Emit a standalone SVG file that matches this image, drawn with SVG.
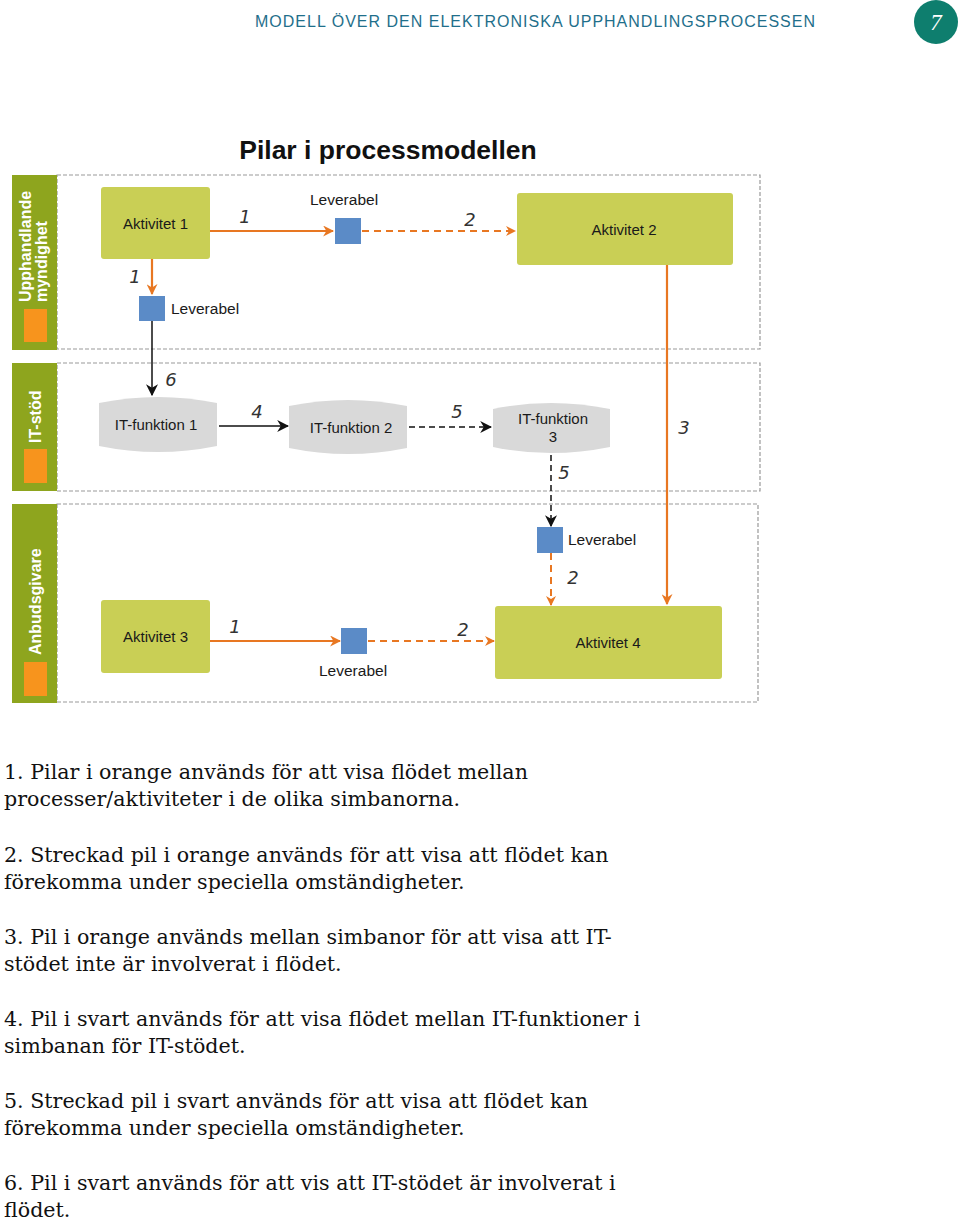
<svg xmlns="http://www.w3.org/2000/svg" width="960" height="1222" viewBox="0 0 960 1222">
<style>
.lane{fill:none;stroke:#999;stroke-width:1.2;stroke-dasharray:4 2}
.bar{fill:#8ea51e}
.sq{fill:#f7941d}
.lanelbl{font-family:"Liberation Sans",Arial,sans-serif;font-weight:bold;font-size:16px;fill:#fff}
.act{fill:#c9cf55}
.lev{fill:#5b8bc7}
.itf{fill:#d9d9d9}
.t{font-family:"Liberation Sans",Arial,sans-serif;font-size:15px;fill:#1a1a1a;text-anchor:middle}
.tl{font-family:"Liberation Sans",Arial,sans-serif;font-size:15.5px;fill:#1a1a1a}
.num{font-family:"DejaVu Sans",sans-serif;font-style:italic;font-size:18px;fill:#333;text-anchor:middle}
.o{stroke:#e87722;stroke-width:2.2;fill:none}
.od{stroke:#e87722;stroke-width:2;fill:none;stroke-dasharray:7 5}
.k{stroke:#111;stroke-width:1.5;fill:none}
.kd{stroke:#111;stroke-width:1.5;fill:none;stroke-dasharray:6 4}
.body{font-family:"DejaVu Serif","Liberation Serif",serif;font-size:20.6px;fill:#111}
</style>
<defs>
<marker id="ao" viewBox="0 0 10 10" refX="9" refY="5" markerWidth="5" markerHeight="5" orient="auto" markerUnits="strokeWidth"><path d="M0,0 L10,5 L0,10 L3,5 Z" fill="#e87722"/></marker>
<marker id="ak" viewBox="0 0 10 10" refX="9" refY="5" markerWidth="8" markerHeight="8" orient="auto" markerUnits="strokeWidth"><path d="M0,0 L10,5 L0,10 L3,5 Z" fill="#111"/></marker>
</defs>
<rect width="960" height="1222" fill="#fff"/>
<g id="header">
<text x="255" y="27" font-family="Liberation Sans,Arial,sans-serif" font-size="16" fill="#1f6f8b" textLength="560" lengthAdjust="spacing">MODELL ÖVER DEN ELEKTRONISKA UPPHANDLINGSPROCESSEN</text>
<circle cx="936" cy="22" r="22" fill="#0e7e6e"/>
<text x="936" y="30" font-family="Liberation Serif,serif" font-style="italic" font-size="23" fill="#fff" text-anchor="middle">7</text>
</g>
<text id="title" x="388" y="159" font-family="Liberation Sans,Arial,sans-serif" font-weight="bold" font-size="26.5" fill="#111" text-anchor="middle">Pilar i processmodellen</text>
<g id="lanes">
<rect class="lane" x="57" y="175" width="703" height="174"/>
<rect class="bar" x="12" y="175" width="45" height="175"/>
<rect class="sq" x="24" y="309" width="23" height="33"/>
<text class="lanelbl" transform="translate(31,302) rotate(-90)">Upphandlande</text>
<text class="lanelbl" transform="translate(47,302) rotate(-90)">myndighet</text>
<rect class="lane" x="57" y="363" width="703" height="128"/>
<rect class="bar" x="12" y="363" width="45" height="128"/>
<rect class="sq" x="24" y="449" width="23" height="34"/>
<text class="lanelbl" transform="translate(41,443) rotate(-90)">IT-stöd</text>
<rect class="lane" x="57" y="504" width="701" height="198"/>
<rect class="bar" x="12" y="504" width="45" height="199"/>
<rect class="sq" x="24" y="662" width="23" height="34"/>
<text class="lanelbl" transform="translate(41,655) rotate(-90)">Anbudsgivare</text>
</g>
<g id="connectors">
<line class="o" x1="210" y1="231" x2="333" y2="231" marker-end="url(#ao)"/>
<line class="od" x1="362" y1="231" x2="515" y2="231" marker-end="url(#ao)"/>
<line class="o" x1="152" y1="259" x2="152" y2="294" marker-end="url(#ao)"/>
<line class="k" x1="152" y1="321" x2="152" y2="395" marker-end="url(#ak)"/>
<line class="k" x1="219" y1="426" x2="288" y2="426" marker-end="url(#ak)"/>
<line class="kd" x1="409" y1="427" x2="491" y2="427" marker-end="url(#ak)"/>
<line class="kd" x1="551" y1="455" x2="551" y2="526" marker-end="url(#ak)"/>
<line class="od" x1="551" y1="553" x2="551" y2="605" marker-end="url(#ao)"/>
<line class="o" x1="667" y1="265" x2="667" y2="604" marker-end="url(#ao)"/>
<line class="o" x1="210" y1="641" x2="340" y2="641" marker-end="url(#ao)"/>
<line class="od" x1="368" y1="641" x2="494" y2="641" marker-end="url(#ao)"/>
<text class="num" x="245" y="223">1</text>
<text class="num" x="470" y="226">2</text>
<text class="num" x="135" y="283">1</text>
<text class="num" x="171" y="386">6</text>
<text class="num" x="257" y="418">4</text>
<text class="num" x="457" y="418">5</text>
<text class="num" x="564" y="479">5</text>
<text class="num" x="684" y="434">3</text>
<text class="num" x="573" y="584">2</text>
<text class="num" x="235" y="633">1</text>
<text class="num" x="463" y="636">2</text>
</g>
<g id="aktivitet1"><rect class="act" x="101" y="187" width="109" height="72" rx="3"/><text class="t" x="155.5" y="229">Aktivitet 1</text></g>
<g id="aktivitet2"><rect class="act" x="517" y="193" width="216" height="72" rx="3"/><text class="t" x="624" y="235">Aktivitet 2</text></g>
<g id="aktivitet3"><rect class="act" x="101" y="600" width="109" height="73" rx="3"/><text class="t" x="155.5" y="642">Aktivitet 3</text></g>
<g id="aktivitet4"><rect class="act" x="495" y="606" width="227" height="73" rx="3"/><text class="t" x="608" y="648">Aktivitet 4</text></g>
<g id="leverabel1"><rect class="lev" x="335" y="218" width="26" height="26"/><text class="tl" x="310" y="205">Leverabel</text></g>
<g id="leverabel2"><rect class="lev" x="139" y="296" width="26" height="25"/><text class="tl" x="171" y="314">Leverabel</text></g>
<g id="leverabel3"><rect class="lev" x="537" y="527" width="26" height="26"/><text class="tl" x="568" y="545">Leverabel</text></g>
<g id="leverabel4"><rect class="lev" x="341" y="628" width="26" height="26"/><text class="tl" x="319" y="676">Leverabel</text></g>
<g id="itfunktion1"><path class="itf" d="M99,403 Q158,391 217,403 L217,446 Q158,458 99,446 Z"/><text class="t" x="156" y="430">IT-funktion 1</text></g>
<g id="itfunktion2"><path class="itf" d="M289,406 Q348,394 407,406 L407,448 Q348,460 289,448 Z"/><text class="t" x="351" y="433">IT-funktion 2</text></g>
<g id="itfunktion3"><path class="itf" d="M493,409 Q551,397 610,409 L610,447 Q551,459 493,447 Z"/><text class="t" x="553" y="424">IT-funktion</text><text class="t" x="553" y="442">3</text></g>
<g id="legend" class="body">
<text x="4" y="779">1. Pilar i orange används för att visa flödet mellan</text>
<text x="4" y="806">processer/aktiviteter i de olika simbanorna.</text>
<text x="4" y="862">2. Streckad pil i orange används för att visa att flödet kan</text>
<text x="4" y="889">förekomma under speciella omständigheter.</text>
<text x="4" y="944">3. Pil i orange används mellan simbanor för att visa att IT-</text>
<text x="4" y="971">stödet inte är involverat i flödet.</text>
<text x="4" y="1026">4. Pil i svart används för att visa flödet mellan IT-funktioner i</text>
<text x="4" y="1053">simbanan för IT-stödet.</text>
<text x="4" y="1108">5. Streckad pil i svart används för att visa att flödet kan</text>
<text x="4" y="1135">förekomma under speciella omständigheter.</text>
<text x="4" y="1190">6. Pil i svart används för att vis att IT-stödet är involverat i</text>
<text x="4" y="1217">flödet.</text>
</g>
</svg>
